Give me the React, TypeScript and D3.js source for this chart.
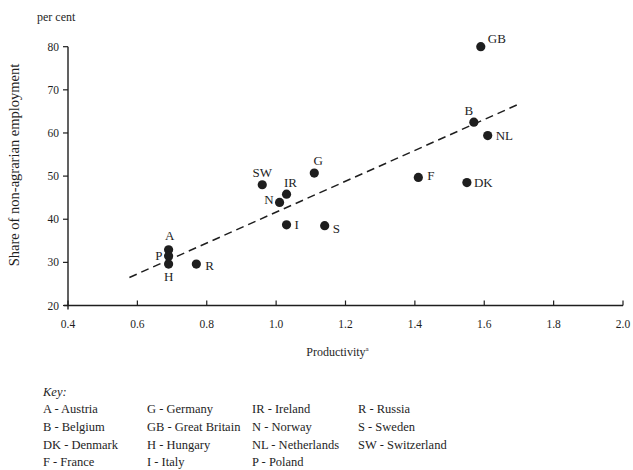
import * as d3 from "d3";

// country codes, productivity (x) and share of non-agrarian employment (y, per cent)
const codes = ["GB", "B", "NL", "G", "F", "DK", "S", "SW", "IR", "N", "I", "A", "P", "H", "R"];
const productivity = [1.59, 1.57, 1.61, 1.11, 1.41, 1.55, 1.14, 0.96, 1.03, 1.01, 1.03, 0.69, 0.69, 0.69, 0.77];
const employmentShare = [80, 62.5, 59.4, 50.7, 49.7, 48.5, 38.5, 48, 45.8, 43.9, 38.7, 32.9, 31.5, 29.6, 29.6];

// fitted trend line endpoints
const trendX = [0.577, 1.7];
const trendY = [26.5, 66.7];

const xTicks = [0.4, 0.6, 0.8, 1.0, 1.2, 1.4, 1.6, 1.8, 2.0];
const yTicks = [20, 30, 40, 50, 60, 70, 80];

const keyColumns = [
  ["A - Austria", "B - Belgium", "DK - Denmark", "F - France"],
  ["G - Germany", "GB - Great Britain", "H - Hungary", "I - Italy"],
  ["IR - Ireland", "N - Norway", "NL - Netherlands", "P - Poland"],
  ["R - Russia", "S - Sweden", "SW - Switzerland"],
];

// where each point label sits relative to its dot
const labelPlace: Record<string, [number, number, string]> = {
  GB: [7, -4, "start"],
  B: [-5, -7, "middle"],
  NL: [8, 4, "start"],
  G: [4, -8, "middle"],
  F: [9, 3, "start"],
  DK: [7, 4, "start"],
  S: [8, 7, "start"],
  SW: [0, -8, "middle"],
  IR: [4, -7, "middle"],
  N: [-6, 2, "end"],
  I: [8, 4, "start"],
  A: [1, -10, "middle"],
  P: [-6, 4, "end"],
  H: [0, 17, "middle"],
  R: [9, 6, "start"],
};

const font = "'Liberation Serif', 'DejaVu Serif', serif";
const ink = "#1e1e1e";

export default function App() {
  const width = 633;
  const height = 470;
  const x = d3.scaleLinear().domain([0.4, 2.0]).range([68, 623]);
  const y = d3.scaleLinear().domain([20, 80]).range([305.5, 46.7]);
  const fmt = (d: number) => d.toFixed(1);

  const trend = d3
    .line<number>()
    .x((d) => x(trendX[d]))
    .y((d) => y(trendY[d]));

  return (
    <svg
      width={width}
      height={height}
      style={{ position: "absolute", left: 0, top: 0, background: "#fff" }}
      fontFamily={font}
      fill={ink}
    >
      <text x={37} y={21} fontSize={12}>per cent</text>

      {/* y axis */}
      <line x1={x(0.4)} x2={x(0.4)} y1={y(80)} y2={y(20) + 4} stroke={ink} strokeWidth={1.4} />
      {yTicks.map((t) => (
        <g key={t}>
          <line x1={x(0.4) - 5} x2={x(0.4)} y1={y(t)} y2={y(t)} stroke={ink} strokeWidth={1.2} />
          <text x={x(0.4) - 9} y={y(t) + 4} fontSize={11.5} textAnchor="end">{t}</text>
        </g>
      ))}
      <text transform="translate(19,165) rotate(-90)" fontSize={14.5} textAnchor="middle">
        Share of non-agrarian employment
      </text>

      {/* x axis */}
      <line x1={x(0.4) - 4} x2={x(2.0)} y1={y(20)} y2={y(20)} stroke={ink} strokeWidth={1.4} />
      {xTicks.map((t) => (
        <g key={t}>
          <line x1={x(t)} x2={x(t)} y1={y(20) - 5} y2={y(20)} stroke={ink} strokeWidth={1.2} />
          <text x={x(t)} y={y(20) + 22} fontSize={11.5} textAnchor="middle">{fmt(t)}</text>
        </g>
      ))}
      <text x={x(1.2) - 8} y={356} fontSize={12} textAnchor="middle">
        Productivity<tspan fontSize={7} dy={-5}>a</tspan>
      </text>

      {/* trend */}
      <path d={trend([0, 1]) ?? ""} fill="none" stroke={ink} strokeWidth={1.5} strokeDasharray="8,5" />

      {/* points */}
      {codes.map((c, i) => {
        const [dx, dy, anchor] = labelPlace[c];
        const cx = x(productivity[i]);
        const cy = y(employmentShare[i]);
        return (
          <g key={c}>
            <circle cx={cx} cy={cy} r={4.6} fill={ink} />
            <text x={cx + dx} y={cy + dy} fontSize={13} textAnchor={anchor} fill={ink}>{c}</text>
          </g>
        );
      })}

      {/* key */}
      <text x={43} y={396} fontSize={12.5} fontStyle="italic">Key:</text>
      {keyColumns.map((col, ci) =>
        col.map((entry, ri) => (
          <text key={entry} x={[43, 147, 252, 358][ci]} y={413 + ri * 17.8} fontSize={12.5}>
            {entry}
          </text>
        ))
      )}
    </svg>
  );
}
